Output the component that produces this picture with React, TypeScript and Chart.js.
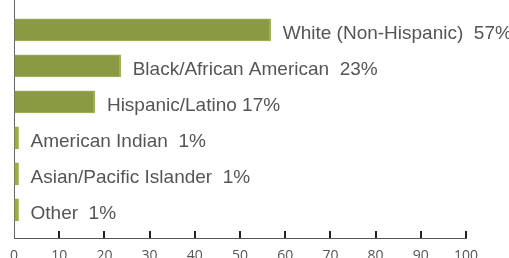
import React, { useEffect, useRef } from "react";
import { Chart, registerables } from "chart.js";

Chart.register(...registerables);

const categories = [
  "White (Non-Hispanic)",
  "Black/African American",
  "Hispanic/Latino",
  "American Indian",
  "Asian/Pacific Islander",
  "Other",
];
const percents = [57, 23, 17, 1, 1, 1];
const labelGaps = ["  ", "  ", " ", "  ", "  ", "  "];
const barValues = [56.8, 23.6, 17.9, 1, 1, 1];
const xTicks = [0, 10, 20, 30, 40, 50, 60, 70, 80, 90, 100];

const TEXT_FONT = "19px 'Liberation Sans', Arial, sans-serif";

const overlayPlugin = {
  id: "overlay",
  afterDatasetsDraw(chart: any) {
    const ctx = chart.ctx;
    const meta = chart.getDatasetMeta(0);
    const xs = chart.scales.x;
    const area = chart.chartArea;
    ctx.save();
    ctx.font = TEXT_FONT;
    ctx.fillStyle = "#555555";
    ctx.textBaseline = "alphabetic";
    ctx.textAlign = "left";
    meta.data.forEach((el: any, i: number) => {
      const txt = categories[i] + labelGaps[i] + percents[i] + "%";
      ctx.fillText(txt, el.x + 12, el.y + 9);
    });
    ctx.strokeStyle = "#222222";
    ctx.lineWidth = 2;
    xTicks.forEach((v) => {
      if (v === 0) return;
      const px = Math.round(xs.getPixelForValue(v));
      ctx.beginPath();
      ctx.moveTo(px, area.bottom - 7);
      ctx.lineTo(px, area.bottom);
      ctx.stroke();
    });
    ctx.restore();
  },
};

export default function App() {
  const ref = useRef<HTMLCanvasElement | null>(null);
  useEffect(() => {
    if (!ref.current) return;
    const chart = new Chart(ref.current, {
      type: "bar",
      data: {
        datasets: [
          {
            data: barValues.map((v, i) => ({ x: v, y: i })),
            backgroundColor: barValues.map((v) => (v > 2 ? "#8a9a42" : "#9aae3a")),
            borderColor: barValues.map((v) => (v > 2 ? "#a2b05c" : "#9aae3a")),
            borderWidth: { top: 1, right: 2, bottom: 1, left: 0 } as any,
            borderSkipped: false,
            barThickness: 22,
          },
        ],
      },
      options: {
        indexAxis: "y",
        animation: false,
        responsive: true,
        maintainAspectRatio: false,
        layout: { padding: { left: 13, right: 43, top: 0, bottom: 0 } },
        plugins: { legend: { display: false }, tooltip: { enabled: false } },
        scales: {
          x: {
            type: "linear",
            min: 0,
            max: 100,
            offset: false,
            afterBuildTicks: (s: any) => {
              s.ticks = xTicks.map((v) => ({ value: v }));
            },
            afterFit: (s: any) => {
              s.height = 20;
            },
            grid: { display: true, drawOnChartArea: false, drawTicks: false },
            border: { display: true, color: "#555555", width: 1 },
            ticks: {
              color: "#555555",
              padding: 10,
              maxRotation: 0,
              autoSkip: false,
              font: { family: "'Open Sans', sans-serif", size: 14 },
            },
          },
          y: {
            type: "linear",
            reverse: true,
            offset: false,
            min: -0.83,
            max: 5.78,
            afterFit: (s: any) => {
              s.width = 0;
            },
            grid: { display: false },
            border: { display: true, color: "#666666", width: 1 },
            ticks: { display: false },
          },
        },
      },
      plugins: [overlayPlugin],
    });
    return () => chart.destroy();
  }, []);
  return (
    <div style={{ position: "fixed", left: 0, top: 0, width: 509, height: 258, background: "#fff" }}>
      <canvas ref={ref} />
    </div>
  );
}
